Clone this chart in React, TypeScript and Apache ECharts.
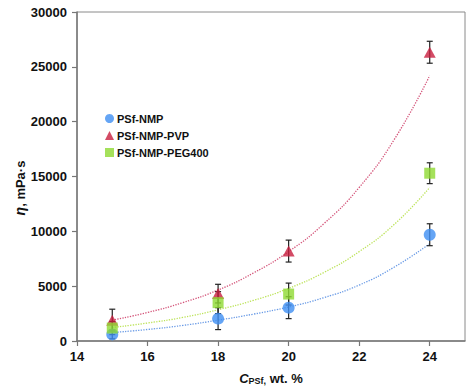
import React, { useEffect, useRef } from "react";
import * as echarts from "echarts";

const xValues = [15, 18, 20, 24];
const nmpValues = [600, 2040, 3040, 9690];
const nmpErrors = [400, 1000, 1000, 1000];
const pvpValues = [1900, 4320, 8200, 26330];
const pvpErrors = [1000, 850, 1000, 1000];
const pegValues = [1180, 3500, 4280, 15300];
const pegErrors = [600, 1000, 1000, 950];

const trendX = [15, 16, 17, 18, 19, 20, 21, 22, 23, 24];
const nmpTrend = [770, 1050, 1420, 1900, 2450, 3100, 3950, 5100, 6750, 8870];
const pvpTrend = [1900, 2600, 3500, 4650, 6200, 8150, 10700, 14000, 18400, 24200];
const pegTrend = [1230, 1640, 2150, 2850, 3700, 4800, 6250, 8150, 10650, 14000];

const xTicks = [14, 16, 18, 20, 22, 24];

const BLUE = "#3F8EF2";
const RED = "#C81E3E";
const GREEN = "#8FD932";
const FONT = "Liberation Sans, Arial, sans-serif";

function pairs(xs: number[], ys: number[]) {
  return xs.map((x, i) => [x, ys[i]]);
}

function errData(xs: number[], ys: number[], es: number[]) {
  return xs.map((x, i) => [x, ys[i] - es[i], ys[i] + es[i]]);
}

function errorSeries(name: string, data: number[][]) {
  return {
    name,
    type: "custom",
    z: 1,
    silent: true,
    data,
    encode: { x: 0, y: [1, 2] },
    renderItem: (params: any, api: any) => {
      const x = api.value(0);
      const lo = api.coord([x, api.value(1)]);
      const hi = api.coord([x, api.value(2)]);
      const cap = 3;
      const style = { stroke: "#222", lineWidth: 1.2 };
      return {
        type: "group",
        children: [
          { type: "line", shape: { x1: lo[0], y1: lo[1], x2: hi[0], y2: hi[1] }, style },
          { type: "line", shape: { x1: lo[0] - cap, y1: lo[1], x2: lo[0] + cap, y2: lo[1] }, style },
          { type: "line", shape: { x1: hi[0] - cap, y1: hi[1], x2: hi[0] + cap, y2: hi[1] }, style },
        ],
      };
    },
  };
}

function trendSeries(name: string, data: number[][], color: string) {
  return {
    name,
    type: "line",
    smooth: true,
    showSymbol: false,
    silent: true,
    z: 0,
    data,
    lineStyle: { color, width: 1.3, type: "dotted" },
  };
}

export default function App() {
  const ref = useRef<HTMLDivElement>(null);
  useEffect(() => {
    if (!ref.current) return;
    const chart = echarts.init(ref.current, undefined, { renderer: "svg" });
    chart.setOption({
      animation: false,
      backgroundColor: "#fff",
      grid: {
        left: 77,
        top: 12,
        right: 9,
        bottom: 50,
        show: true,
        borderColor: "#8a8a8a",
        borderWidth: 1,
      },
      legend: {
        orient: "vertical",
        left: 100,
        top: 108,
        itemGap: 6,
        itemWidth: 9,
        itemHeight: 9,
        data: ["PSf-NMP", "PSf-NMP-PVP", "PSf-NMP-PEG400"],
        textStyle: { fontFamily: FONT, fontWeight: "bold", fontSize: 11, color: "#111", padding: [0, 0, 0, -2] },
      },
      xAxis: {
        type: "value",
        min: 14,
        max: 25,
        interval: 2,
        splitLine: { show: false },
        axisLine: { lineStyle: { color: "#777", width: 1.5 } },
        axisTick: { inside: false, length: 5, customValues: xTicks, lineStyle: { color: "#777", width: 1.2 } },
        axisLabel: {
          customValues: xTicks,
          margin: 9,
          fontFamily: FONT,
          fontWeight: "bold",
          fontSize: 13,
          color: "#111",
        },
        name: "{c|C}{s|PSf,}{n| wt. %}",
        nameLocation: "middle",
        nameGap: 30,
        nameTextStyle: {
          rich: {
            c: { fontFamily: FONT, fontWeight: "bold", fontStyle: "italic", fontSize: 13, color: "#111" },
            s: { fontFamily: FONT, fontWeight: "bold", fontSize: 9, color: "#111", padding: [5, 0, 0, 0] },
            n: { fontFamily: FONT, fontWeight: "bold", fontSize: 13, color: "#111" },
          },
        },
      },
      yAxis: {
        type: "value",
        min: 0,
        max: 30000,
        interval: 5000,
        splitLine: { show: false },
        axisLine: { show: true, lineStyle: { color: "#777", width: 1.5 } },
        axisTick: { show: true, inside: false, length: 5, lineStyle: { color: "#777", width: 1.2 } },
        axisLabel: {
          margin: 10,
          formatter: (v: number) => String(v),
          fontFamily: FONT,
          fontWeight: "bold",
          fontSize: 13,
          color: "#111",
        },
      },
      graphic: [
        {
          type: "text",
          x: 20,
          y: 188,
          rotation: Math.PI / 2,
          style: {
            text: "{i|η}{n|, mPa·s}",
            align: "center",
            verticalAlign: "middle",
            rich: {
              i: { fontFamily: FONT, fontWeight: "bold", fontStyle: "italic", fontSize: 14, fill: "#111" },
              n: { fontFamily: FONT, fontWeight: "bold", fontSize: 13, fill: "#111" },
            },
          },
        },
      ],
      series: [
        trendSeries("trend-nmp", pairs(trendX, nmpTrend), "#6A9BE6"),
        trendSeries("trend-pvp", pairs(trendX, pvpTrend), "#D4557A"),
        trendSeries("trend-peg", pairs(trendX, pegTrend), "#BDE35A"),
        errorSeries("err-nmp", errData(xValues, nmpValues, nmpErrors)),
        errorSeries("err-pvp", errData(xValues, pvpValues, pvpErrors)),
        errorSeries("err-peg", errData(xValues, pegValues, pegErrors)),
        {
          name: "PSf-NMP",
          type: "scatter",
          z: 3,
          symbol: "circle",
          symbolSize: 12,
          itemStyle: { color: BLUE },
          data: pairs(xValues, nmpValues),
        },
        {
          name: "PSf-NMP-PVP",
          type: "scatter",
          z: 4,
          symbol: "triangle",
          symbolSize: [12, 11],
          itemStyle: { color: RED },
          data: pairs(xValues, pvpValues),
        },
        {
          name: "PSf-NMP-PEG400",
          type: "scatter",
          z: 5,
          symbol: "rect",
          symbolSize: 11,
          itemStyle: { color: GREEN },
          data: pairs(xValues, pegValues),
        },
      ],
    });
    return () => chart.dispose();
  }, []);
  return (
    <div
      ref={ref}
      style={{ position: "fixed", left: 0, top: 0, width: 474, height: 391, background: "#fff" }}
    />
  );
}
